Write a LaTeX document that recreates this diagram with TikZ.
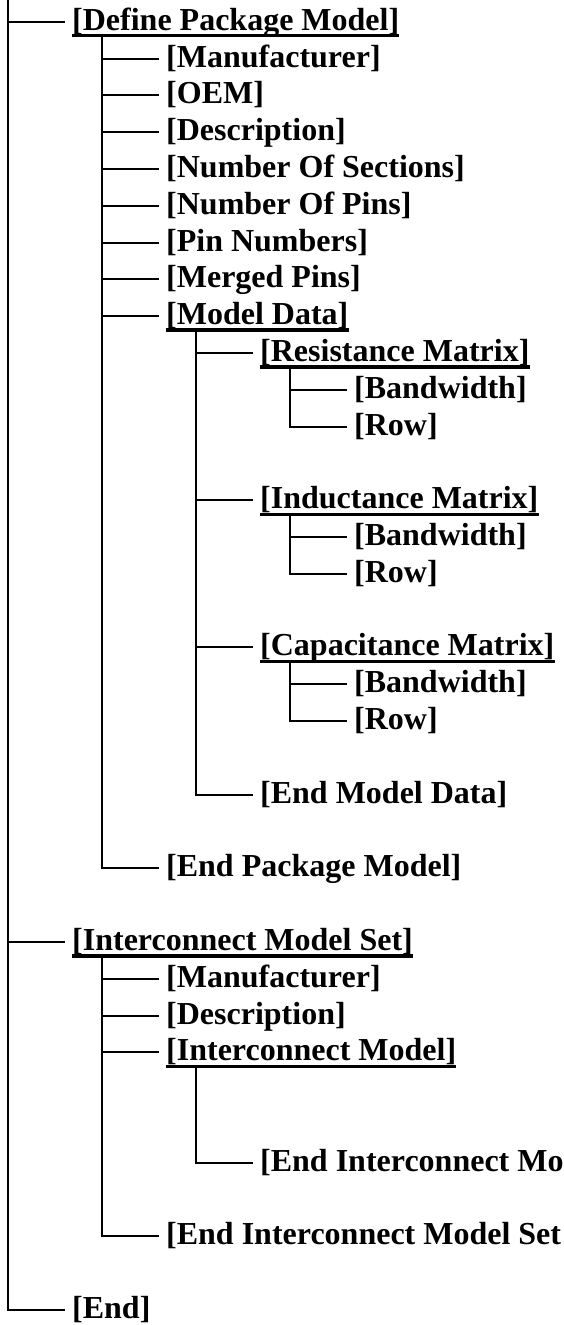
\documentclass[tikz,border=0pt]{standalone}
\usepackage{fontspec}
\setmainfont{Liberation Serif}
\begin{document}
\begin{tikzpicture}[x=1pt,y=-1pt,
  lbl/.style={anchor=west, inner xsep=7pt, inner ysep=0pt, text height=22pt, text depth=5pt,
    font=\fontsize{32}{36.8}\selectfont\bfseries},
  conn/.style={line width=2pt},
  ul/.style={line width=3.4pt}]
\useasboundingbox (0,0) rectangle (563,1325);
\clip (0,0) rectangle (563,1325);
% level 0
\node[lbl] (dpm) at (65,{21.7+36.81*0}) {[Define Package Model]};
\node[lbl] (ims) at (65,{21.7+36.81*25}) {[Interconnect Model Set]};
\node[lbl] (end) at (65,{21.7+36.81*35}) {[End]};
% level 1 (package)
\node[lbl] (mfra) at (159,{21.7+36.81*1}) {[Manufacturer]};
\node[lbl] (oem)  at (159,{21.7+36.81*2}) {[OEM]};
\node[lbl] (desa) at (159,{21.7+36.81*3}) {[Description]};
\node[lbl] (nsec) at (159,{21.7+36.81*4}) {[Number Of Sections]};
\node[lbl] (npin) at (159,{21.7+36.81*5}) {[Number Of Pins]};
\node[lbl] (pinn) at (159,{21.7+36.81*6}) {[Pin Numbers]};
\node[lbl] (mrg)  at (159,{21.7+36.81*7}) {[Merged Pins]};
\node[lbl] (md)   at (159,{21.7+36.81*8}) {[Model Data]};
\node[lbl] (epm)  at (159,{21.7+36.81*23}) {[End Package Model]};
% level 2 (model data)
\node[lbl] (rm)  at (253,{21.7+36.81*9}) {[Resistance Matrix]};
\node[lbl] (lm)  at (253,{21.7+36.81*13}) {[Inductance Matrix]};
\node[lbl] (cm)  at (253,{21.7+36.81*17}) {[Capacitance Matrix]};
\node[lbl] (emd) at (253,{21.7+36.81*21}) {[End Model Data]};
% level 3
\node[lbl] (rbw)  at (347,{21.7+36.81*10}) {[Bandwidth]};
\node[lbl] (rrow) at (347,{21.7+36.81*11}) {[Row]};
\node[lbl] (lbw)  at (347,{21.7+36.81*14}) {[Bandwidth]};
\node[lbl] (lrow) at (347,{21.7+36.81*15}) {[Row]};
\node[lbl] (cbw)  at (347,{21.7+36.81*18}) {[Bandwidth]};
\node[lbl] (crow) at (347,{21.7+36.81*19}) {[Row]};
% level 1 (interconnect)
\node[lbl] (mfrb) at (159,{21.7+36.81*26}) {[Manufacturer]};
\node[lbl] (desb) at (159,{21.7+36.81*27}) {[Description]};
\node[lbl] (im)   at (159,{21.7+36.81*28}) {[Interconnect Model]};
\node[lbl] (eims) at (159,{21.7+36.81*33}) {[End Interconnect Model Set};
% level 2 (interconnect model)
\node[lbl] (eim) at (253,{21.7+36.81*31}) {[End Interconnect Mo};
% underlines
\foreach \n in {dpm,ims,md,rm,lm,cm,im}
  \draw[ul] ([xshift=7pt,yshift=-5.5pt]\n.base west) -- ([xshift=-7pt,yshift=-5.5pt]\n.base east);
% connectors
\coordinate (top) at (8,0);
\foreach \c in {dpm,ims,end} \draw[conn] (top) |- (\c.west);
\foreach \c in {mfra,oem,desa,nsec,npin,pinn,mrg,md,epm}
  \draw[conn] ([xshift=37pt]dpm.south west) |- (\c.west);
\foreach \c in {rm,lm,cm,emd}
  \draw[conn] ([xshift=37pt]md.south west) |- (\c.west);
\foreach \c in {rbw,rrow} \draw[conn] ([xshift=37pt]rm.south west) |- (\c.west);
\foreach \c in {lbw,lrow} \draw[conn] ([xshift=37pt]lm.south west) |- (\c.west);
\foreach \c in {cbw,crow} \draw[conn] ([xshift=37pt]cm.south west) |- (\c.west);
\foreach \c in {mfrb,desb,im,eims}
  \draw[conn] ([xshift=37pt]ims.south west) |- (\c.west);
\draw[conn] ([xshift=37pt]im.south west) |- (eim.west);
\end{tikzpicture}
\end{document}
